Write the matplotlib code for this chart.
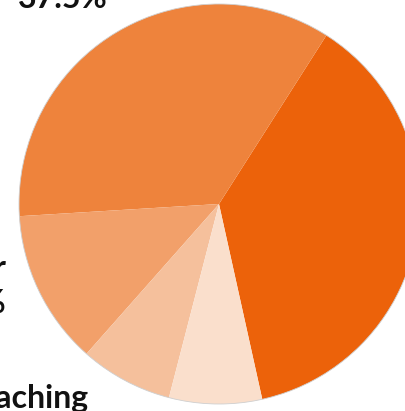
import matplotlib.pyplot as plt
from matplotlib.patches import Circle

# slice shares (percent), counterclockwise from the lower right
shares = [37.5, 35.0, 12.5, 7.5, 7.5]
colors = ['#EC620A', '#EE833C', '#F2A06A', '#F5C09C', '#FADFCC']

# label pieces that are left inside the cropped picture
top_label = '37.5%'
left_label = ['Other', '12.5%']
bottom_label = 'Teaching'

plt.rcParams['font.family'] = ['Lato', 'DejaVu Sans']

fig = plt.figure(figsize=(4.06, 4.11), dpi=100)
ax = fig.add_axes([0, 0, 1, 1])

center = (219, 207)
radius = 200
ax.pie(shares, colors=colors, center=center, radius=radius,
       startangle=282.5, counterclock=True,
       wedgeprops={'linewidth': 0, 'antialiased': True})
ax.add_patch(Circle(center, radius, fill=False, edgecolor='#cfcfcf', linewidth=0.6))

ax.set_xlim(0, 406)
ax.set_ylim(0, 411)
ax.set_aspect('equal')
ax.axis('off')

font = dict(fontsize=23, fontweight='bold', color='#111111', va='baseline')
ax.text(108, 403, top_label, ha='right', **font)
ax.text(7, 133, left_label[0], ha='right', **font)
ax.text(7, 98, left_label[1], ha='right', **font)
ax.text(89, 3, bottom_label, ha='right', **font)

fig.savefig('out.png', dpi=100)
